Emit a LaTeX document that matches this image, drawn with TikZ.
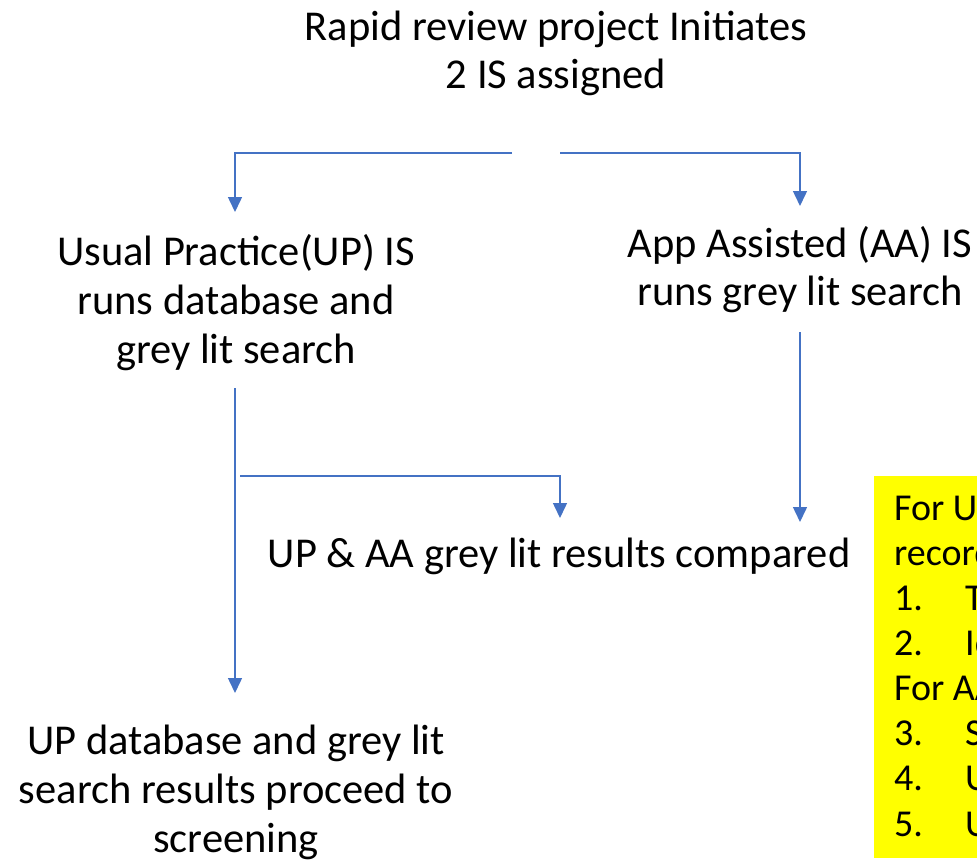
\documentclass[tikz,border=0pt]{standalone}
\usepackage{fontspec}
\setmainfont{Carlito}
\usetikzlibrary{arrows.meta}
\definecolor{flowblue}{HTML}{4472C4}
\definecolor{notefill}{HTML}{FFFF00}
\tikzset{
  txt/.style={align=center, inner sep=0pt, anchor=base,
    font=\fontsize{42.5}{49}\selectfont},
  flow/.style={draw=flowblue, line width=1.5pt,
    -{Triangle[width=14pt,length=15pt]}},
  notetxt/.style={align=left, inner sep=0pt, anchor=base west,
    font=\fontsize{38}{45.14}\selectfont}
}
\newcommand{\itemno}[1]{\makebox[71pt][l]{#1}}
\begin{document}
\begin{tikzpicture}[x=1pt, y=-1pt]
  \useasboundingbox (0,0) rectangle (977,862);

  % text blocks (placed by the baseline of their last line)
  \node[txt, font=\fontsize{42.5}{48}\selectfont] (title) at (556,88)
    {Rapid review project Initiates\\2 IS assigned};
  \node[txt] (up) at (236,363)
    {Usual Practice(UP) IS\\runs database and\\grey lit search};
  \node[txt, font=\fontsize{42.5}{48}\selectfont] (aa) at (800,305)
    {App Assisted (AA) IS\\runs grey lit search};
  \node[txt] (cmp) at (559,567) {UP \& AA grey lit results compared};
  \node[txt] (screen) at (236,852)
    {UP database and grey lit\\search results proceed to\\screening};

  % yellow note at the right edge
  \fill[notefill] (874,476) rectangle (990,858);
  \node[notetxt] (note) at (894,836)
    {For U\\record\\\itemno{1.}T\\\itemno{2.}Id\\For AA\\\itemno{3.}S\\\itemno{4.}U\\\itemno{5.}U};

  % connector end points
  \coordinate (splitL) at (512,153);
  \coordinate (splitR) at (560,153);
  \coordinate (upIn) at (235,212);
  \coordinate (aaIn) at (800,206);
  \coordinate (upOut) at (235,388);
  \coordinate (screenIn) at (235,693);
  \coordinate (branch) at (240,476);
  \coordinate (cmpInL) at (560,518);
  \coordinate (aaOut) at (800,332);
  \coordinate (cmpInR) at (800,522);

  % connectors
  \draw[flow] (splitL) -| (upIn);
  \draw[flow] (splitR) -| (aaIn);
  \draw[flow] (upOut) -- (screenIn);
  \draw[flow] (branch) -| (cmpInL);
  \draw[flow] (aaOut) -- (cmpInR);
\end{tikzpicture}
\end{document}
